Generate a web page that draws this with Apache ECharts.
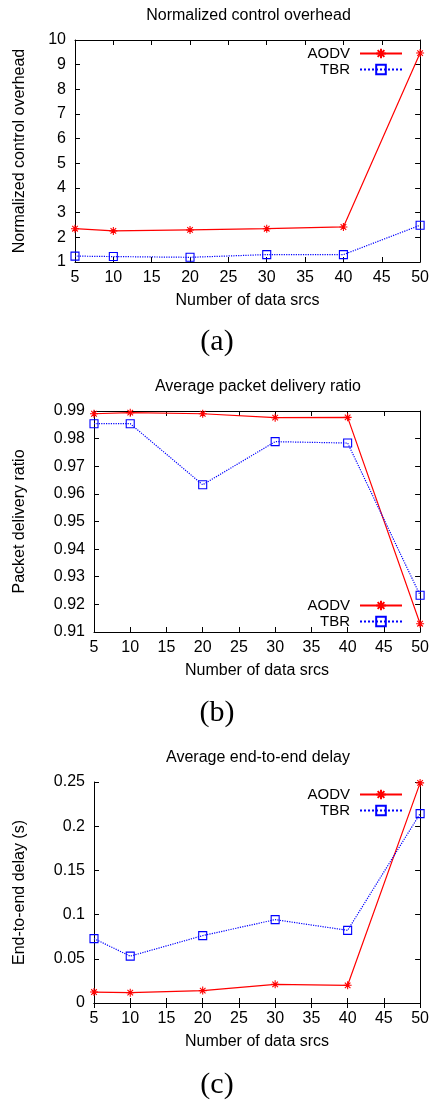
<!DOCTYPE html>
<html>
<head>
<meta charset="utf-8">
<script src="https://cdn.jsdelivr.net/npm/echarts@6/dist/echarts.min.js"></script>
<style>
  html, body { margin: 0; padding: 0; background: #fff; }
  #main { width: 432px; height: 1100px; }
</style>
</head>
<body>
<div id="main"></div>
<script>
// data
var srcs = [5, 10, 20, 30, 40, 50];

var aodvOverhead = [2.35, 2.26, 2.30, 2.35, 2.42, 9.47];
var tbrOverhead = [1.24, 1.22, 1.19, 1.30, 1.30, 2.49];

var aodvDelivery = [0.9890, 0.9894, 0.9890, 0.9876, 0.9877, 0.9130];
var tbrDelivery = [0.9854, 0.9854, 0.9633, 0.9789, 0.9784, 0.9233];

var aodvDelay = [0.0124, 0.0117, 0.0140, 0.0211, 0.0200, 0.2490];
var tbrDelay = [0.0728, 0.0530, 0.0762, 0.0943, 0.0822, 0.2142];

var FONT = '"Liberation Sans", Arial, sans-serif';
var FS = 16;
var STAR = 'path://M0,5L10,5M5,0L5,10M1.5,1.5L8.5,8.5M1.5,8.5L8.5,1.5';

var panels = [
  { title: 'Normalized control overhead', yName: 'Normalized control overhead',
    aodv: aodvOverhead, tbr: tbrOverhead, min: 1, max: 10, step: 1,
    grid: { left: 75, top: 40, height: 222 }, titleY: 16, legendY: 52, label: '(a)', labelY: 342 },
  { title: 'Average packet delivery ratio', yName: 'Packet delivery ratio',
    aodv: aodvDelivery, tbr: tbrDelivery, min: 0.91, max: 0.99, step: 0.01,
    grid: { left: 94, top: 411, height: 221 }, titleY: 387, legendY: 604, label: '(b)', labelY: 713 },
  { title: 'Average end-to-end delay', yName: 'End-to-end delay (s)',
    aodv: aodvDelay, tbr: tbrDelay, min: 0, max: 0.25, step: 0.05,
    grid: { left: 94, top: 782, height: 221 }, titleY: 758, legendY: 793, label: '(c)', labelY: 1085 }
];

function pairs(arr) {
  return srcs.map(function (x, i) { return [x, arr[i]]; });
}

var grids = [], xAxes = [], yAxes = [], series = [], legends = [], graphics = [];

panels.forEach(function (p, k) {
  grids.push({ left: p.grid.left, right: 10, top: p.grid.top, height: p.grid.height });
  var centerX = (p.grid.left + 422) / 2;

  var xBase = {
    type: 'value', gridIndex: k, min: 5, max: 50, interval: 5,
    axisLine: { lineStyle: { color: '#000', width: 1 } },
    axisTick: { inside: true, length: 5, lineStyle: { color: '#000' } },
    splitLine: { show: false }
  };
  xAxes.push(Object.assign({}, xBase, {
    position: 'bottom',
    name: 'Number of data srcs', nameLocation: 'middle', nameGap: 31,
    nameTextStyle: { fontFamily: FONT, fontSize: FS, color: '#000' },
    axisLabel: { fontFamily: FONT, fontSize: FS, color: '#000', margin: 8,
      showMaxLabel: true, showMinLabel: true }
  }));
  xAxes.push(Object.assign({}, xBase, { position: 'top', axisLabel: { show: false } }));

  var yBase = {
    type: 'value', gridIndex: k, min: p.min, max: p.max, interval: p.step,
    axisLine: { show: true, lineStyle: { color: '#000', width: 1 } },
    axisTick: { show: true, inside: true, length: 5, lineStyle: { color: '#000' } },
    splitLine: { show: false }
  };
  yAxes.push(Object.assign({}, yBase, {
    position: 'left',
    name: p.yName, nameLocation: 'middle', nameRotate: 90, nameGap: p.grid.left - 28,
    nameTextStyle: { fontFamily: FONT, fontSize: FS, color: '#000' },
    axisLabel: { fontFamily: FONT, fontSize: FS, color: '#000', margin: 9 }
  }));
  yAxes.push(Object.assign({}, yBase, { position: 'right', axisLabel: { show: false } }));

  series.push({
    name: 'AODV', type: 'line', xAxisIndex: 2 * k, yAxisIndex: 2 * k,
    data: pairs(p.aodv), clip: false, symbol: STAR, symbolSize: 8,
    lineStyle: { color: '#ff0000', width: 1.2 },
    itemStyle: { color: '#ff0000', borderColor: '#ff0000', borderWidth: 1.1 },
    emphasis: { disabled: true }, animation: false
  });
  series.push({
    name: 'TBR', type: 'line', xAxisIndex: 2 * k, yAxisIndex: 2 * k,
    data: pairs(p.tbr), clip: false, symbol: 'rect', symbolSize: 8,
    lineStyle: { color: '#0000ff', width: 1.2, type: 'dotted' },
    itemStyle: { color: 'none', borderColor: '#0000ff', borderWidth: 1.1 },
    emphasis: { disabled: true }, animation: false
  });

  ['AODV', 'TBR'].forEach(function (nm, j) {
    legends.push({
      data: [nm], right: 29, top: p.legendY + j * 16 - 6, padding: 0,
      align: 'right', itemWidth: 42, itemHeight: 12, selectedMode: false,
      textStyle: { fontFamily: FONT, fontSize: 15, color: '#000', padding: [0, 5, 0, 0] }
    });
  });

  graphics.push({
    type: 'text', x: centerX, y: p.titleY,
    style: { text: p.title, fontFamily: FONT, fontSize: FS, fill: '#000',
      textAlign: 'center', textVerticalAlign: 'middle' }
  });
  graphics.push({
    type: 'text', x: 217, y: p.labelY,
    style: { text: p.label, fontFamily: '"Liberation Serif", "Times New Roman", serif',
      fontSize: 30, fill: '#000', textAlign: 'center', textVerticalAlign: 'middle' }
  });
});

var chart = echarts.init(document.getElementById('main'));
chart.setOption({
  animation: false,
  grid: grids,
  xAxis: xAxes,
  yAxis: yAxes,
  legend: legends,
  series: series,
  graphic: graphics
});
</script>
</body>
</html>
